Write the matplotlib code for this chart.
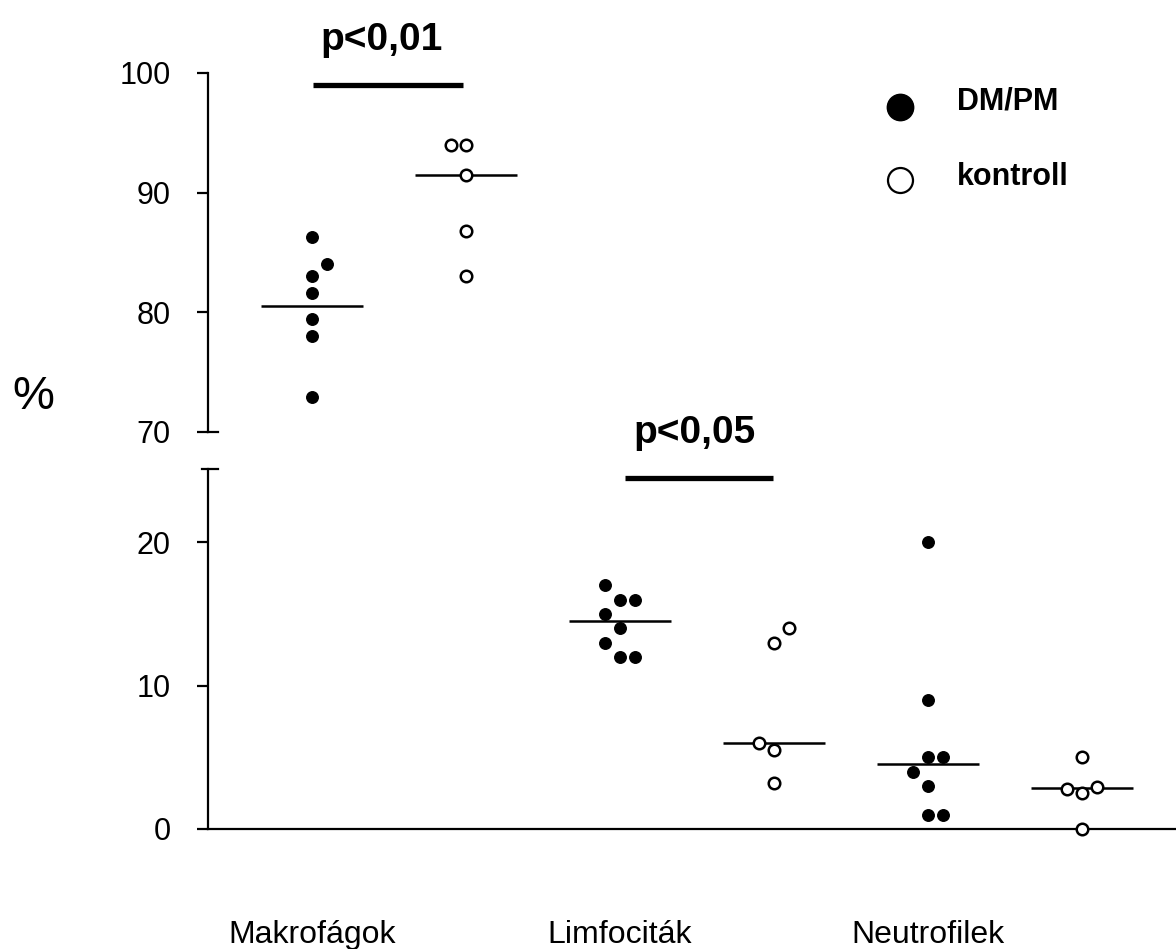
import matplotlib.pyplot as plt
from matplotlib.lines import Line2D
import numpy as np

plt.rcParams['font.family'] = ['Liberation Sans', 'DejaVu Sans']

categories = ['Makrofágok', 'Limfociták', 'Neutrofilek']

# values, with the column slot of each point (-1, 0, 1)
makro_dm = [86.3, 84.0, 83.0, 81.6, 79.4, 78.0, 72.9]
makro_dm_slot = [0, 1, 0, 0, 0, 0, 0]
makro_ko = [94.0, 94.0, 91.5, 86.8, 83.0]
makro_ko_slot = [-1, 0, 0, 0, 0]

limfo_dm = [17.0, 16.0, 16.0, 15.0, 14.0, 13.0, 12.0, 12.0]
limfo_dm_slot = [-1, 0, 1, -1, 0, -1, 0, 1]
limfo_ko = [14.0, 13.0, 6.0, 5.5, 3.2]
limfo_ko_slot = [1, 0, -1, 0, 0]

neutro_dm = [20.0, 9.0, 5.0, 5.0, 4.0, 3.0, 1.0, 1.0]
neutro_dm_slot = [0, 0, 0, 1, -1, 0, 0, 1]
neutro_ko = [5.0, 2.8, 2.5, 2.9, 0.0]
neutro_ko_slot = [0, -1, 0, 1, 0]

# group mean lines
means_dm = [80.5, 14.5, 4.5]
means_ko = [91.5, 6.0, 2.85]

slot_w = 0.049
ko_shift = 0.5
half_line = 0.165

fig = plt.figure(figsize=(11.76, 9.49), dpi=100)
ax_top = fig.add_axes([0.1769, 0.5448, 0.8231, 0.3783])
ax_bot = fig.add_axes([0.1769, 0.12645, 0.8231, 0.3793])

for ax in (ax_top, ax_bot):
    ax.set_xlim(-0.3377, 2.805)
    ax.spines['top'].set_visible(False)
    ax.spines['right'].set_visible(False)
    ax.spines['left'].set_linewidth(1.6)
    ax.spines['bottom'].set_linewidth(1.6)
    ax.tick_params(axis='y', direction='out', length=8, width=1.6,
                   labelsize=22, pad=19)
    ax.tick_params(axis='x', length=0, labelbottom=False)
    ax.set_xticks([])

ax_top.spines['bottom'].set_visible(False)
ax_top.set_ylim(70, 100)
ax_top.set_yticks([70, 80, 90, 100])
ax_bot.set_ylim(0, 25.1)
ax_bot.set_yticks([0, 10, 20])


def draw_group(ax, x0, vals, slots, filled):
    xs = x0 + np.array(slots) * slot_w
    if filled:
        ax.plot(xs, vals, 'o', color='black', markersize=8.3, clip_on=False, zorder=3)
    else:
        ax.plot(xs, vals, 'o', markerfacecolor='white', markeredgecolor='black',
                markeredgewidth=1.8, markersize=8.3, clip_on=False, zorder=3)


draw_group(ax_top, 0, makro_dm, makro_dm_slot, True)
draw_group(ax_top, ko_shift, makro_ko, makro_ko_slot, False)
draw_group(ax_bot, 1, limfo_dm, limfo_dm_slot, True)
draw_group(ax_bot, 1 + ko_shift, limfo_ko, limfo_ko_slot, False)
draw_group(ax_bot, 2, neutro_dm, neutro_dm_slot, True)
draw_group(ax_bot, 2 + ko_shift, neutro_ko, neutro_ko_slot, False)

# mean lines
ax_top.hlines(means_dm[0], 0 - half_line, 0 + half_line, color='black', lw=1.8, zorder=2)
ax_top.hlines(means_ko[0], ko_shift - half_line, ko_shift + half_line, color='black', lw=1.8, zorder=2)
for i in (1, 2):
    ax_bot.hlines(means_dm[i], i - half_line, i + half_line, color='black', lw=1.8, zorder=2)
    ax_bot.hlines(means_ko[i], i + ko_shift - half_line, i + ko_shift + half_line,
                  color='black', lw=1.8, zorder=2)

# significance bars
ax_top.hlines(99.0, 0.003, 0.49, color='black', lw=3.8, clip_on=False)
ax_top.text(0.227, 101.9, 'p<0,01', ha='center', va='baseline',
            fontsize=28, fontweight='bold', clip_on=False)
ax_bot.hlines(24.46, 1.016, 1.497, color='black', lw=3.8, clip_on=False)
ax_bot.text(1.242, 26.9, 'p<0,05', ha='center', va='baseline',
            fontsize=28, fontweight='bold', clip_on=False)

# axis break caps
ax_top.add_line(Line2D([0, 0.0103], [0, 0], transform=ax_top.transAxes,
                       color='black', lw=1.6, clip_on=False))
ax_bot.add_line(Line2D([-0.0062, 0.0103], [1, 1], transform=ax_bot.transAxes,
                       color='black', lw=1.6, clip_on=False))

# category labels
for i, name in enumerate(categories):
    ax_bot.text(i, -0.3167, name, transform=ax_bot.get_xaxis_transform(),
                ha='center', va='baseline', fontsize=23)

# y label
fig.text(33 / 1176, 1 - 397 / 949, '%', ha='center', va='center', fontsize=34)

# legend drawn by hand
fig.add_artist(Line2D([0.7653], [0.8873], marker='o', color='black',
                      markersize=19, linestyle='none'))
fig.add_artist(Line2D([0.7653], [0.8103], marker='o', markerfacecolor='white',
                      markeredgecolor='black', markeredgewidth=1.6,
                      markersize=18, linestyle='none'))
fig.text(0.8138, 0.8851, 'DM/PM', ha='left', va='baseline', fontsize=22, fontweight='bold')
fig.text(0.8138, 0.8051, 'kontroll', ha='left', va='baseline', fontsize=22, fontweight='bold')

fig.savefig('out.png', dpi=100)
